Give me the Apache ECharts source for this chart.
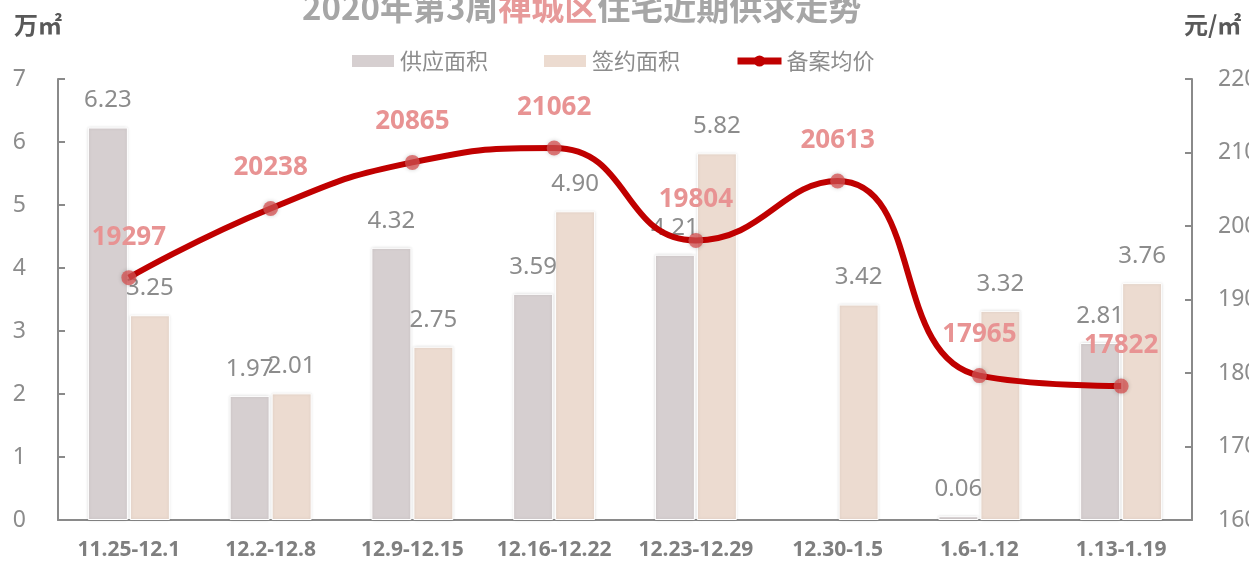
<!DOCTYPE html>
<html>
<head>
<meta charset="utf-8">
<script src="https://cdn.jsdelivr.net/npm/echarts@6/dist/echarts.min.js"></script>
<style>
  html, body { margin: 0; padding: 0; background: #fff; }
  #chart { width: 1249px; height: 563px; }
</style>
</head>
<body>
<div id="chart"></div>
<script>
(function () {
    'use strict';

    // Data
    var weeks = ['11.25-12.1', '12.2-12.8', '12.9-12.15', '12.16-12.22',
        '12.23-12.29', '12.30-1.5', '1.6-1.12', '1.13-1.19'];
    var supplyArea = [6.23, 1.97, 4.32, 3.59, 4.21, null, 0.06, 2.81];
    var signedArea = [3.25, 2.01, 2.75, 4.90, 5.82, 3.42, 3.32, 3.76];
    var avgPrice = [19297, 20238, 20865, 21062, 19804, 20613, 17965, 17822];
    var leftTicks = { min: 0, max: 7, interval: 1 };
    var rightTicks = { min: 16000, max: 22000, interval: 1000 };

    var FONT = "'Noto Sans', 'Noto Sans CJK SC', sans-serif";
    var CJK = "'Noto Sans CJK SC', sans-serif";
    var GREY = '#8c8c8c';

    var chart = echarts.init(document.getElementById('chart'));

    var barLabel = {
        show: true, position: 'top', distance: 15,
        color: GREY, fontSize: 24, fontFamily: FONT,
        formatter: function (p) { return p.value == null ? '' : p.value.toFixed(2); }
    };

    chart.setOption({
        backgroundColor: '#fff',
        animation: false,
        textStyle: { fontFamily: FONT },
        title: {
            text: '{a|2020年第3周}{b|禅城区}{a|住宅近期供求走势}',
            left: 297, top: -14,
            textStyle: {
                rich: {
                    a: { color: '#a6a6a6', fontSize: 33, fontWeight: 'bold', fontFamily: CJK },
                    b: { color: '#e79a9a', fontSize: 33, fontWeight: 'bold', fontFamily: CJK }
                }
            }
        },
        legend: {
            top: 45, left: 345,
            itemGap: 54,
            itemWidth: 44, itemHeight: 14,
            textStyle: { color: GREY, fontSize: 22, fontFamily: CJK },
            data: [
                { name: '供应面积', icon: 'rect' },
                { name: '签约面积', icon: 'rect' },
                {
                    name: '备案均价',
                    itemStyle: { color: '#c00000' },
                    lineStyle: { width: 7, color: '#c00000' }
                }
            ]
        },
        grid: { left: 58, right: 57, top: 79, bottom: 43, outerBoundsMode: 'none' },
        xAxis: {
            type: 'category',
            data: weeks,
            axisLine: { lineStyle: { color: '#8a8a8a', width: 2 } },
            axisTick: { show: false },
            axisLabel: { color: '#7f7f7f', fontSize: 21, fontWeight: 'bold', margin: 20, interval: 0 }
        },
        yAxis: [{
            type: 'value',
            min: leftTicks.min, max: leftTicks.max, interval: leftTicks.interval,
            name: '万㎡',
            nameLocation: 'end',
            nameGap: 0,
            nameTextStyle: { color: '#595959', fontSize: 24, fontWeight: 'bold', align: 'left', padding: [0, 0, 42, -44], fontFamily: CJK },
            axisLine: { show: true, lineStyle: { color: '#8a8a8a', width: 2 } },
            axisTick: { show: true, inside: true, length: 7, lineStyle: { color: '#8a8a8a', width: 2 } },
            axisLabel: { color: GREY, fontSize: 23, margin: 32 },
            splitLine: { show: false }
        }, {
            type: 'value',
            min: rightTicks.min, max: rightTicks.max, interval: rightTicks.interval,
            name: '元/㎡',
            nameLocation: 'end',
            nameGap: 0,
            nameTextStyle: { color: '#595959', fontSize: 24, fontWeight: 'bold', align: 'left', padding: [0, 0, 42, -8], fontFamily: CJK },
            axisLine: { show: true, lineStyle: { color: '#8a8a8a', width: 2 } },
            axisTick: { show: true, inside: true, length: 7, lineStyle: { color: '#8a8a8a', width: 2 } },
            axisLabel: { color: GREY, fontSize: 23, margin: 26, formatter: function (v) { return String(v); } },
            splitLine: { show: false }
        }],
        series: [{
            name: '供应面积',
            type: 'bar',
            data: supplyArea,
            barWidth: 40,
            barGap: '5%',
            itemStyle: {
                color: '#d6cfd0', borderColor: '#fff', borderWidth: 1,
                shadowColor: 'rgba(0,0,0,0.12)', shadowBlur: 3
            },
            label: barLabel,
            z: 2
        }, {
            name: '签约面积',
            type: 'bar',
            data: signedArea,
            barWidth: 40,
            itemStyle: {
                color: '#ecdbd0', borderColor: '#fff', borderWidth: 1,
                shadowColor: 'rgba(0,0,0,0.12)', shadowBlur: 3
            },
            label: barLabel,
            z: 2
        }, {
            name: '备案均价',
            type: 'line',
            yAxisIndex: 1,
            data: avgPrice,
            smooth: 0.5,
            symbol: 'circle',
            symbolSize: 15,
            lineStyle: { color: '#c00000', width: 6 },
            itemStyle: {
                color: 'rgba(214, 80, 80, 0.75)',
                shadowColor: 'rgba(0,0,0,0.25)', shadowBlur: 4
            },
            label: {
                show: true, position: 'top', distance: 20,
                color: '#e89393', fontSize: 26, fontWeight: 'bold'
            },
            z: 5
        }]
    });
})();
</script>
</body>
</html>
